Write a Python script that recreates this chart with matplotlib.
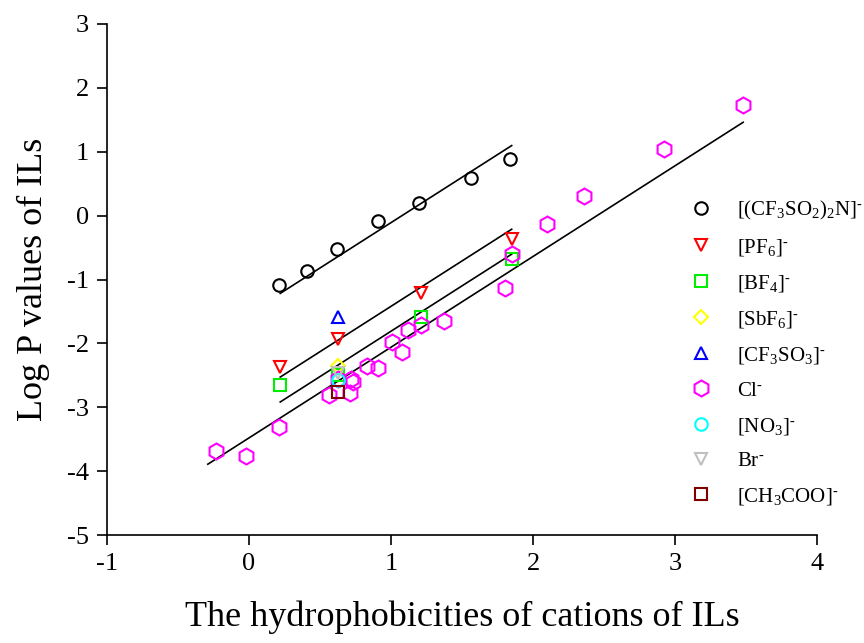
import numpy as np
import matplotlib
matplotlib.use("Agg")
import matplotlib.pyplot as plt

plt.rcParams['font.family'] = 'Liberation Serif'
plt.rcParams['mathtext.fontset'] = 'custom'
plt.rcParams['mathtext.rm'] = 'Liberation Serif'
plt.rcParams['mathtext.it'] = 'Liberation Serif:italic'
plt.rcParams['axes.unicode_minus'] = False

# data
tfsi_x = [0.21, 0.41, 0.62, 0.91, 1.20, 1.56, 1.84]
tfsi_y = [-1.09, -0.86, -0.52, -0.08, 0.20, 0.59, 0.88]

pf6_x = [0.22, 0.63, 1.21, 1.85]
pf6_y = [-2.37, -1.93, -1.21, -0.36]

bf4_x = [0.22, 0.63, 1.21, 1.85]
bf4_y = [-2.65, -2.49, -1.58, -0.68]

sbf6_x = [0.63]
sbf6_y = [-2.36]

otf_x = [0.63]
otf_y = [-1.59]

cl_x = [-0.235, -0.02, 0.21, 0.56, 0.63, 0.71, 0.72, 0.73, 0.83, 0.91, 1.01,
        1.08, 1.12, 1.21, 1.37, 1.80, 1.85, 2.10, 2.36, 2.92, 3.48]
cl_y = [-3.68, -3.77, -3.31, -2.81, -2.55, -2.78, -2.56, -2.61, -2.35, -2.38, -1.98,
        -2.13, -1.79, -1.72, -1.65, -1.14, -0.60, -0.13, 0.31, 1.04, 1.73]

no3_x = [0.63]
no3_y = [-2.57]

br_x = [0.63]
br_y = [-2.47]

ac_x = [0.63]
ac_y = [-2.76]

# fitted lines: common slope, one intercept per anion
slope = 1.42
fit_names = ["tfsi", "pf6", "bf4", "cl"]
fit_b = [-1.53, -2.84, -3.23, -3.48]
fit_x0 = [0.22, 0.22, 0.22, -0.29]
fit_x1 = [1.85, 1.85, 1.85, 3.48]

sup = r'^{\text{-}}'
series = [
    (tfsi_x, tfsi_y, 'o', 'black', r'$\mathrm{[(CF_3SO_2)_2N]}' + sup + '$'),
    (pf6_x, pf6_y, 'v', 'red', r'$\mathrm{[PF_6]}' + sup + '$'),
    (bf4_x, bf4_y, 's', '#00ee00', r'$\mathrm{[BF_4]}' + sup + '$'),
    (sbf6_x, sbf6_y, 'D', '#ffff00', r'$\mathrm{[SbF_6]}' + sup + '$'),
    (otf_x, otf_y, '^', 'blue', r'$\mathrm{[CF_3SO_3]}' + sup + '$'),
    (cl_x, cl_y, 'h', 'magenta', r'$\mathrm{Cl}' + sup + '$'),
    (no3_x, no3_y, 'o', 'cyan', r'$\mathrm{[NO_3]}' + sup + '$'),
    (br_x, br_y, 'v', '#c0c0c0', r'$\mathrm{Br}' + sup + '$'),
    (ac_x, ac_y, 's', '#800000', r'$\mathrm{[CH_3COO]}' + sup + '$'),
]
sizes = {'o': 9, 'v': 9, 's': 9, 'D': 7.5, '^': 9, 'h': 11.5}

fig = plt.figure(figsize=(8.64, 6.43), dpi=100)
ax = fig.add_axes([107/864, 1 - 535/643, (817 - 107)/864, (535 - 24)/643])

for b, x0, x1 in zip(fit_b, fit_x0, fit_x1):
    xs = np.array([x0, x1])
    ax.plot(xs, slope * xs + b, color='black', linewidth=1.2)

for xs, ys, m, c, lab in series:
    ax.plot(xs, ys, linestyle='none', marker=m, markersize=sizes[m],
            markerfacecolor='none', markeredgecolor=c, markeredgewidth=1.5,
            label=lab)

ax.set_xlim(-1, 4)
ax.set_ylim(-5, 3)
ax.set_xticks([-1, 0, 1, 2, 3, 4])
ax.set_yticks([-5, -4, -3, -2, -1, 0, 1, 2, 3])
ax.spines['top'].set_visible(False)
ax.spines['right'].set_visible(False)
ax.spines['left'].set_linewidth(1.2)
ax.spines['bottom'].set_linewidth(1.2)
ax.tick_params(direction='out', length=7, width=1.2, labelsize=19, pad=6)

ax.set_xlabel('The hydrophobicities of cations of ILs', fontsize=26, labelpad=18)
ax.set_ylabel('Log P values of ILs', fontsize=26, labelpad=12)

ax.legend(loc='upper left', bbox_to_anchor=(691/864, 1 - 199/643),
          bbox_transform=fig.transFigure, frameon=False, fontsize=15,
          handlelength=1.0, handletextpad=1.2, labelspacing=0.72,
          borderpad=0, borderaxespad=0)

fig.savefig('out.png', dpi=100)
